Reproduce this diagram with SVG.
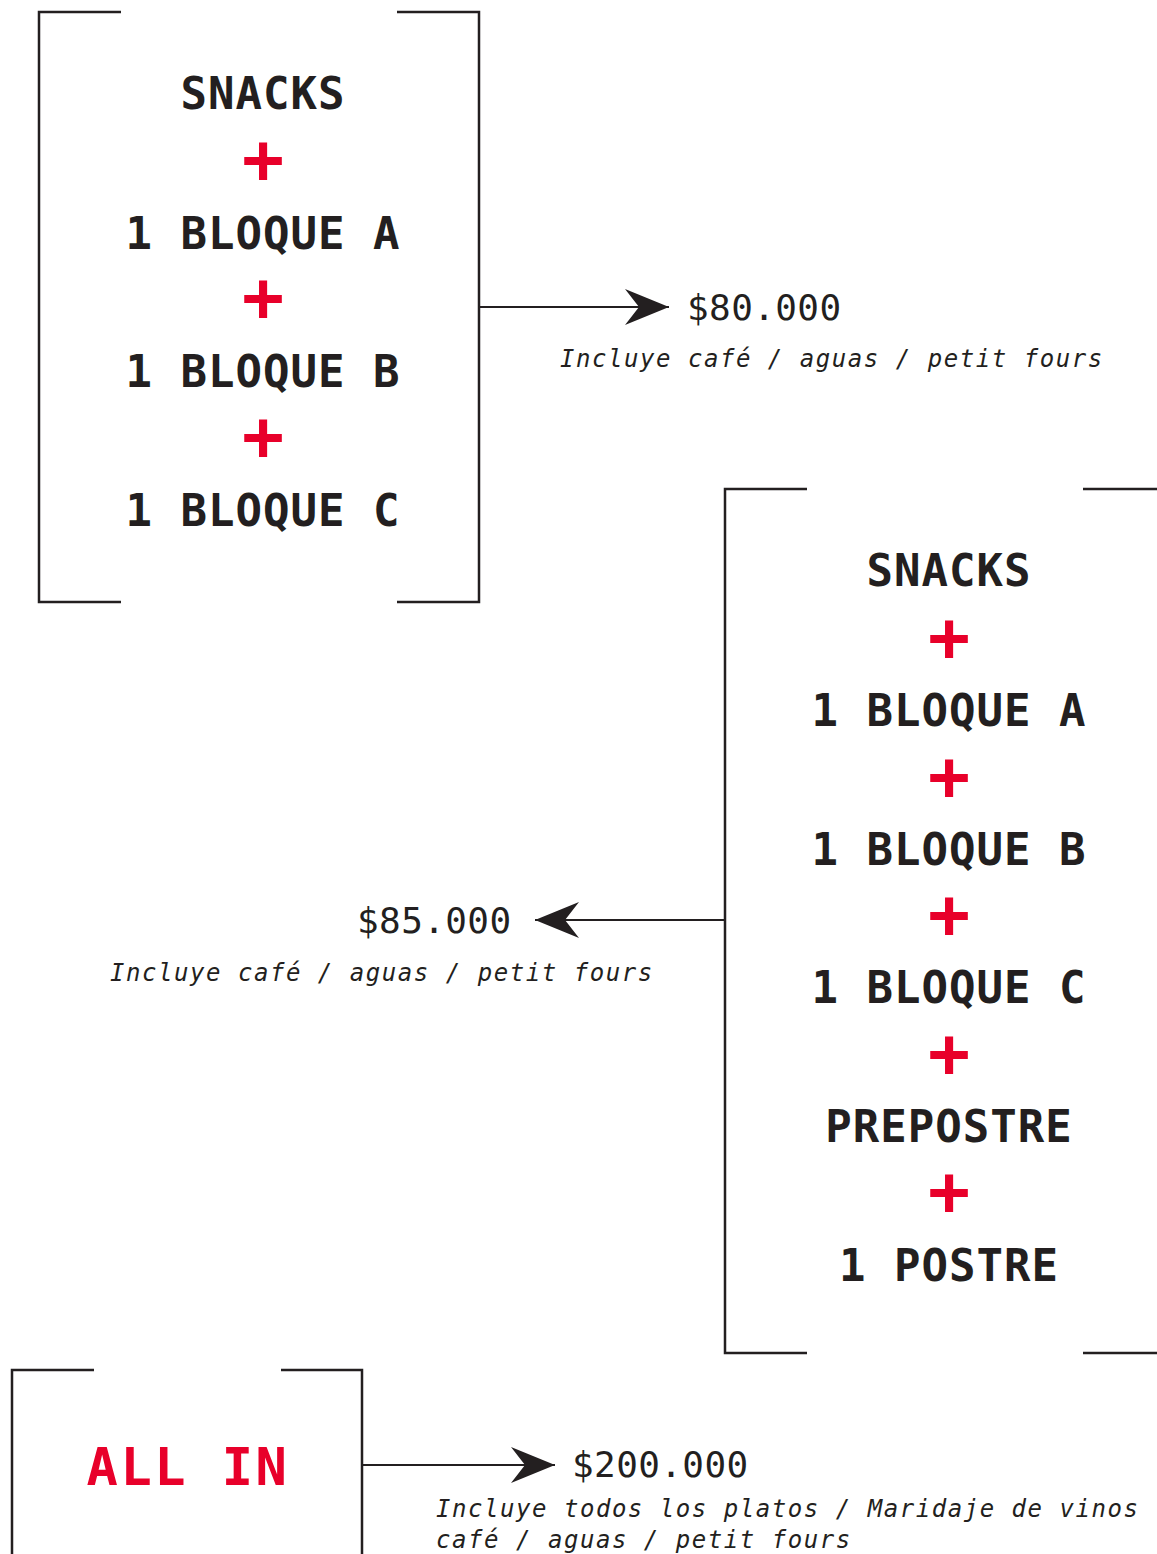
<svg xmlns="http://www.w3.org/2000/svg" width="1157" height="1554" viewBox="0 0 1157 1554">
<defs>
<marker id="ah" viewBox="0 0 44 36" refX="44" refY="18" markerWidth="44" markerHeight="36" markerUnits="userSpaceOnUse" orient="auto">
<path d="M0,0 L44,18 L0,36 L14,18 Z" fill="#231f20"/>
</marker>
</defs>
<style>
.br{fill:none;stroke:#231f20;stroke-width:2.5}
.t{font-family:"DejaVu Sans Mono","Liberation Mono",monospace;font-weight:bold;font-size:44px;letter-spacing:1px;fill:#231f20;text-anchor:middle}
.p{font-family:"DejaVu Sans Mono","Liberation Mono",monospace;font-weight:bold;font-size:70px;fill:#e8002a;text-anchor:middle}
.pr{font-family:"DejaVu Sans Mono","Liberation Mono",monospace;font-size:36px;letter-spacing:0.4px;fill:#231f20}
.it{font-family:"DejaVu Sans Mono","Liberation Mono",monospace;font-style:italic;font-size:24px;letter-spacing:1.54px;fill:#231f20}
.all{font-family:"DejaVu Sans Mono","Liberation Mono",monospace;font-weight:bold;font-size:52px;letter-spacing:2.5px;fill:#e8002a;text-anchor:middle}
.cn{fill:none;stroke:#231f20;stroke-width:2}
</style>
<g id="node-box1">
<path class="br" d="M121,12 H39 V602 H121 M397,12 H479 V602 H397"/>
<text class="t" x="263" y="109">SNACKS</text>
<text class="p" x="263" y="183">+</text>
<text class="t" x="263" y="249">1 BLOQUE A</text>
<text class="p" x="263" y="321">+</text>
<text class="t" x="263" y="387">1 BLOQUE B</text>
<text class="p" x="263" y="460">+</text>
<text class="t" x="263" y="526">1 BLOQUE C</text>
</g>
<g id="node-price1">
<text class="pr" x="687" y="320">$80.000</text>
<text class="it" x="560" y="367">Incluye café / aguas / petit fours</text>
</g>
<g id="node-box2">
<path class="br" d="M807,489 H725 V1353 H807 M1083,489 H1165 V1353 H1083"/>
<text class="t" x="949" y="586">SNACKS</text>
<text class="p" x="949" y="661">+</text>
<text class="t" x="949" y="726">1 BLOQUE A</text>
<text class="p" x="949" y="800">+</text>
<text class="t" x="949" y="865">1 BLOQUE B</text>
<text class="p" x="949" y="938">+</text>
<text class="t" x="949" y="1003">1 BLOQUE C</text>
<text class="p" x="949" y="1077">+</text>
<text class="t" x="949" y="1142">PREPOSTRE</text>
<text class="p" x="949" y="1215">+</text>
<text class="t" x="949" y="1281">1 POSTRE</text>
</g>
<g id="node-price2">
<text class="pr" x="357" y="933">$85.000</text>
<text class="it" x="110" y="981">Incluye café / aguas / petit fours</text>
</g>
<g id="node-box3">
<path class="br" d="M94,1370 H12 V1560 M281,1370 H362 V1560"/>
<text class="all" x="188" y="1485">ALL IN</text>
</g>
<g id="node-price3">
<text class="pr" x="572" y="1477">$200.000</text>
<text class="it" x="436" y="1517">Incluye todos los platos / Maridaje de vinos</text>
<text class="it" x="436" y="1548">café / aguas / petit fours</text>
</g>
<g id="connectors">
<line class="cn" x1="479" y1="307" x2="669" y2="307" marker-end="url(#ah)"/>
<line class="cn" x1="725" y1="920" x2="535" y2="920" marker-end="url(#ah)"/>
<line class="cn" x1="362" y1="1465" x2="555" y2="1465" marker-end="url(#ah)"/>
</g>
</svg>
